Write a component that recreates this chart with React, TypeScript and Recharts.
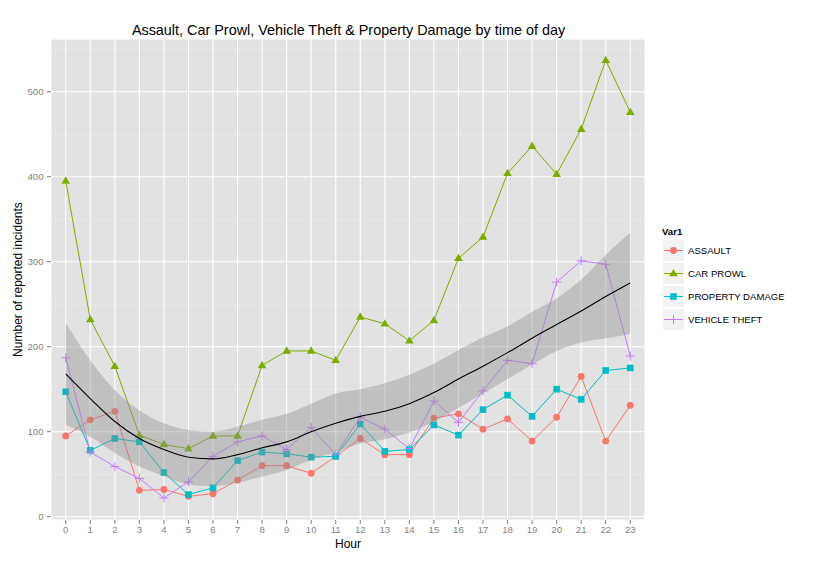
import React from 'react';
import { ComposedChart, Line, Area, XAxis, YAxis, CartesianGrid, Label } from 'recharts';

const hours = [0, 1, 2, 3, 4, 5, 6, 7, 8, 9, 10, 11, 12, 13, 14, 15, 16, 17, 18, 19, 20, 21, 22, 23];

const assault = [95, 114, 124, 31, 32, 24, 27, 43, 60, 60, 51, 71, 92, 73, 73, 116, 121, 103, 115, 89, 117, 165, 89, 131];
const carProwl = [395, 232, 177, 96, 85, 80, 95, 95, 178, 195, 195, 184, 235, 227, 207, 231, 304, 329, 404, 436, 403, 456, 537, 476];
const propertyDamage = [147, 78, 92, 88, 52, 26, 34, 66, 76, 74, 70, 71, 109, 77, 79, 108, 96, 126, 143, 118, 150, 138, 172, 175];
const vehicleTheft = [187, 76, 59, 45, 22, 41, 71, 88, 95, 79, 105, 73, 117, 103, 80, 136, 111, 148, 184, 180, 276, 301, 297, 189];

// loess fit and its confidence band
const smoothFit = [168, 139, 112, 92, 79, 70, 68, 73, 81, 88, 100, 110, 118, 124, 133, 146, 162, 177, 193, 210, 226, 242, 259, 275];
const smoothLow = [108, 94, 75, 59, 48, 38, 36, 40, 47, 55, 67, 76, 86, 91, 99, 112, 128, 145, 162, 179, 195, 205, 210, 215];
const smoothHigh = [228, 184, 149, 125, 110, 102, 100, 106, 114, 121, 133, 145, 150, 157, 167, 180, 196, 211, 224, 241, 257, 279, 308, 334];

const yTicks = [0, 100, 200, 300, 400, 500];
const yMinor = [50, 150, 250, 350, 450, 550];

type Shape = 'circle' | 'triangle' | 'square' | 'plus';

const series: { key: string; label: string; color: string; shape: Shape }[] = [
  { key: 'assault', label: 'ASSAULT', color: '#F8766D', shape: 'circle' },
  { key: 'carProwl', label: 'CAR PROWL', color: '#7CAE00', shape: 'triangle' },
  { key: 'propertyDamage', label: 'PROPERTY DAMAGE', color: '#00BFC4', shape: 'square' },
  { key: 'vehicleTheft', label: 'VEHICLE THEFT', color: '#C77CFF', shape: 'plus' },
];

const data = hours.map((h, i) => ({
  hour: h,
  assault: assault[i],
  carProwl: carProwl[i],
  propertyDamage: propertyDamage[i],
  vehicleTheft: vehicleTheft[i],
  fit: smoothFit[i],
  band: [smoothLow[i], smoothHigh[i]],
}));

const FONT = '"Liberation Sans", Arial, Helvetica, sans-serif';
const GREY50 = '#7F7F7F';

const Marker = ({ cx, cy, shape, color }: { cx?: number; cy?: number; shape: Shape; color: string }) => {
  if (cx == null || cy == null) return null;
  switch (shape) {
    case 'circle':
      return <circle cx={cx} cy={cy} r={3.4} fill={color} />;
    case 'triangle':
      return <polygon points={`${cx},${cy - 4.6} ${cx - 4.3},${cy + 2.8} ${cx + 4.3},${cy + 2.8}`} fill={color} />;
    case 'square':
      return <rect x={cx - 3.3} y={cy - 3.3} width={6.6} height={6.6} fill={color} />;
    default:
      return (
        <path d={`M${cx - 4.6},${cy}H${cx + 4.6}M${cx},${cy - 4.6}V${cy + 4.6}`} stroke={color} strokeWidth={1} fill="none" />
      );
  }
};

const LegendBox = () => (
  <div style={{ position: 'absolute', left: 662, top: 225, fontFamily: FONT, fontSize: 9.6, color: '#000' }}>
    <div style={{ fontWeight: 'bold', height: 14, lineHeight: '14px' }}>Var1</div>
    {series.map((s) => (
      <div key={s.key} style={{ display: 'flex', alignItems: 'center', height: 23 }}>
        <svg width={23} height={23} style={{ display: 'block' }}>
          <rect x={0.5} y={0.5} width={22} height={22} fill="#F2F2F2" stroke="#FFFFFF" />
          <line x1={2} x2={21} y1={11.5} y2={11.5} stroke={s.color} strokeWidth={1} />
          <Marker cx={11.5} cy={11.5} shape={s.shape} color={s.color} />
        </svg>
        <span style={{ marginLeft: 3 }}>{s.label}</span>
      </div>
    ))}
  </div>
);

export default function App() {
  return (
    <div style={{ position: 'absolute', left: 0, top: 0, width: 821, height: 562, background: '#fff' }}>
      <div
        style={{
          position: 'absolute',
          left: 0,
          width: 697,
          top: 22,
          textAlign: 'center',
          fontFamily: FONT,
          fontSize: 14.4,
          lineHeight: '16px',
          color: '#000',
        }}
      >
        Assault, Car Prowl, Vehicle Theft &amp; Property Damage by time of day
      </div>

      <ComposedChart width={821} height={562} data={data} margin={{ top: 39, right: 176, bottom: 0, left: 0 }}>
        {/* panel with minor lines first, then the major grid on top */}
        <CartesianGrid fill="#E2E2E2" stroke="#F0F0F0" strokeWidth={0.6} vertical={false} horizontalValues={yMinor} />
        <CartesianGrid stroke="#FFFFFF" strokeWidth={1.1} fill="none" />

        <XAxis
          dataKey="hour"
          type="number"
          domain={[-0.6, 23.6]}
          ticks={hours}
          interval={0}
          allowDataOverflow
          axisLine={false}
          tickSize={4}
          tickMargin={2}
          height={42}
          tickLine={{ stroke: GREY50 }}
          tick={{ fill: GREY50, fontSize: 9.6, fontFamily: FONT }}
        >
          <Label value="Hour" position="insideBottom" offset={14} style={{ fontSize: 12, fontFamily: FONT, fill: '#000' }} />
        </XAxis>
        <YAxis
          type="number"
          domain={[-3.9, 562]}
          ticks={yTicks}
          interval={0}
          allowDataOverflow
          width={51}
          axisLine={false}
          tickSize={4}
          tickMargin={3.5}
          tickLine={{ stroke: GREY50 }}
          tick={{ fill: GREY50, fontSize: 9.6, fontFamily: FONT }}
        >
          <Label
            value="Number of reported incidents"
            angle={-90}
            position="insideLeft"
            offset={18}
            textAnchor="middle"
            style={{ fontSize: 12, fontFamily: FONT, fill: '#000' }}
          />
        </YAxis>

        {series.map((s) => (
          <Line
            key={s.key + '-line'}
            dataKey={s.key}
            type="linear"
            stroke={s.color}
            strokeWidth={1}
            dot={false}
            activeDot={false}
            isAnimationActive={false}
          />
        ))}
        {series.map((s) => (
          <Line
            key={s.key + '-pts'}
            dataKey={s.key}
            type="linear"
            stroke="none"
            activeDot={false}
            isAnimationActive={false}
            dot={(p: any) => <Marker key={`${s.key}-${p.index}`} cx={p.cx} cy={p.cy} shape={s.shape} color={s.color} />}
          />
        ))}

        <Area
          dataKey="band"
          type="monotone"
          fill="#8F8F8F"
          fillOpacity={0.4}
          stroke="none"
          isAnimationActive={false}
          activeDot={false}
          zIndex={700}
        />
        <Line
          dataKey="fit"
          type="monotone"
          stroke="#000000"
          strokeWidth={1.1}
          dot={false}
          activeDot={false}
          isAnimationActive={false}
          zIndex={710}
        />
      </ComposedChart>

      <LegendBox />
    </div>
  );
}
